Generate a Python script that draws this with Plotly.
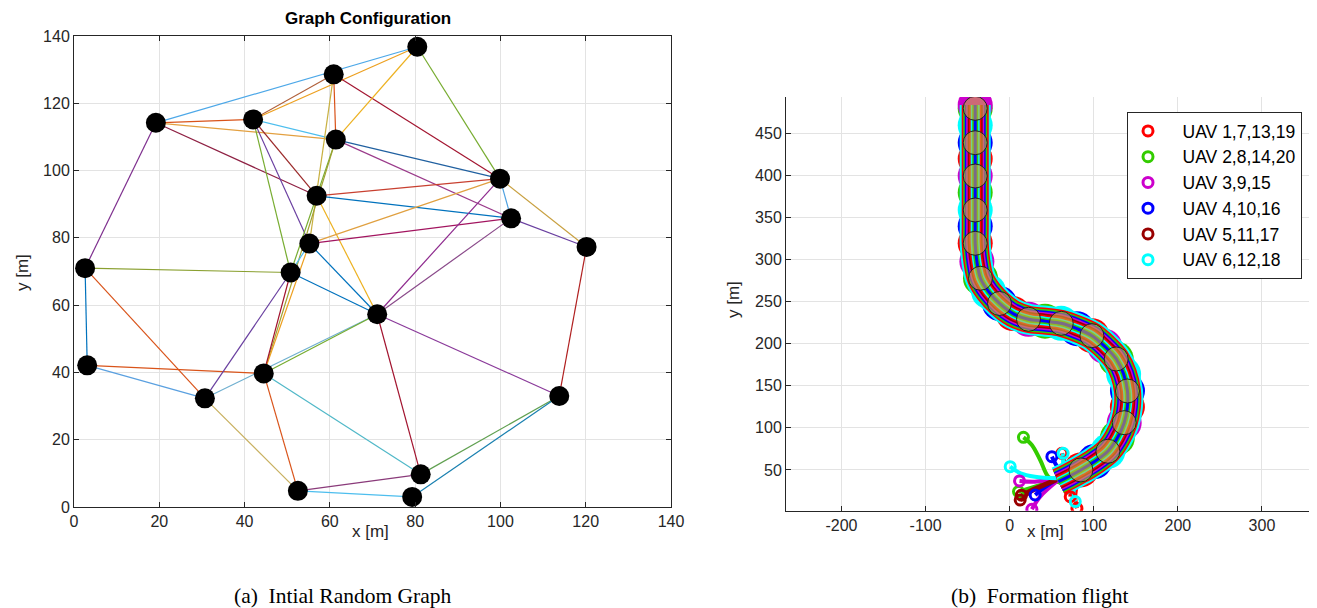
import plotly.graph_objects as go

# ---------------- (a) Initial random graph ----------------
node_x = [60.9, 80.5, 42.0, 19.2, 61.4, 56.9, 99.9, 102.5, 55.2, 120.2,
          2.6, 50.8, 71.1, 3.1, 44.5, 30.7, 113.8, 81.3, 52.5, 79.3]
node_y = [128.6, 136.8, 115.2, 114.2, 109.2, 92.5, 97.6, 85.8, 78.3, 77.3,
          71.0, 69.7, 57.3, 42.1, 39.7, 32.3, 33.0, 9.7, 4.8, 3.0]

edge_from = [3, 3, 3, 3, 3, 2, 2, 2, 2, 2, 2, 0, 0, 0, 1, 1, 4, 4, 4, 4,
             5, 5, 5, 8, 8, 8, 8, 8, 10, 10, 10, 13, 13, 15, 15, 14, 15, 14, 14, 14,
             11, 12, 12, 12, 12, 16, 16, 16, 18, 18, 7, 6, 6]
edge_to = [1, 2, 4, 5, 10, 0, 1, 4, 11, 8, 5, 4, 6, 8, 4, 6, 6, 7, 11, 14,
           6, 7, 12, 6, 7, 14, 12, 11, 11, 13, 15, 14, 15, 11, 12, 12, 18, 11, 18, 17,
           12, 6, 7, 16, 17, 9, 17, 19, 17, 19, 9, 9, 7]
edge_color = ["#4DA8E8", "#D95319", "#E3A040", "#8E2043", "#7E2F8E", "#B0603A", "#EDA020",
              "#4DBEEE", "#77AC30", "#6A3FA0", "#9B2A2A", "#D95319", "#A2142F", "#C8B040",
              "#EDB120", "#77AC30", "#2060A0", "#9A3A8A", "#77AC30", "#A0A030",
              "#C84030", "#0072BD", "#EDB120", "#E0A040", "#A2145F", "#EDA020", "#0072BD",
              "#4DBEEE", "#8AA030", "#0072BD", "#D95319", "#D95319", "#5AA0E0", "#6A40A0",
              "#70B0D0", "#77AC30", "#C8B060", "#A2142F", "#D95319", "#50B8C8",
              "#0072BD", "#8E2A8E", "#8A4A8A", "#8A3A9A", "#A2142F", "#B02020", "#60A050",
              "#1A80B0", "#8A3A7A", "#4DBEEE", "#6A40A0", "#C8A040", "#4DA0E0"]

# ---------------- (b) Formation flight ----------------
path_x = [58, 70, 84.7, 101, 116.8, 128, 136.2, 140, 140.1, 135.5, 126.7, 113, 97.8, 80,
          61.3, 42, 22.4, 4, -12.1, -25, -34.7, -39, -41, -41, -41, -41, -41, -41,
          -41, -41, -41, -41]
path_y = [36, 42, 50, 60, 72.2, 88, 106.2, 125, 143.9, 164, 182.0, 197, 209.7, 218,
          224.4, 227, 229.2, 236, 248, 262, 278, 298, 319.6, 340, 359.2, 380, 399.6, 420,
          439.2, 460, 480.1, 484]
circle_x = [84.7, 116.8, 136.2, 140.1, 126.7, 97.8, 61.3, 22.4, -12.1, -34.7,
            -41, -41, -41, -41, -41]
circle_y = [50.0, 72.2, 106.2, 143.9, 182.0, 209.7, 224.4, 229.2, 248.0, 278,
            319.6, 359.2, 399.6, 439.2, 480.1]

x2_ticks = [-200, -100, 0, 100, 200, 300]
x2_ticktext = ["-200", "-100", "0", "100", "200", "300"]
y2_ticks = [50, 100, 150, 200, 250, 300, 350, 400, 450]

group_names = ["UAV 1,7,13,19", "UAV 2,8,14,20", "UAV 3,9,15",
               "UAV 4,10,16", "UAV 5,11,17", "UAV 6,12,18"]
group_colors = ["#FF0000", "#33CC00", "#CC00CC", "#0000FF", "#990000", "#00FFFF"]

# start legs per group: polylines, first point = start position
start_red_x = [[62, 66, 72], [72, 74, 80], [80, 78, 84]]
start_red_y = [[69.8, 58, 46], [18.2, 30, 44], [4.4, 20, 46]]
start_green_x = [[16.4, 26.4, 36.3, 45.8, 56.5, 68.4], [10.5, 30, 56]]
start_green_y = [[88.8, 79.7, 61.8, 42.0, 35.7, 34.5], [24.2, 30, 38]]
start_mag_x = [[11.7, 30, 56], [26.4, 36, 58]]
start_mag_y = [[36.9, 36, 40], [3.2, 18, 38]]
start_blue_x = [[30.3, 40, 58], [50.2, 58, 68]]
start_blue_y = [[20.2, 28, 40], [65.8, 52, 44]]
start_dred_x = [[12.5, 25, 56], [14, 30, 58]]
start_dred_y = [[14.3, 24, 38], [20, 28, 40]]
start_cyan_x = [[0.6, 13, 30, 56], [63.6, 64, 70], [78, 76, 82]]
start_cyan_y = [[53.9, 46, 42, 40], [69.8, 56, 44], [12.3, 26, 44]]

starts_x = [start_red_x, start_green_x, start_mag_x, start_blue_x, start_dred_x, start_cyan_x]
starts_y = [start_red_y, start_green_y, start_mag_y, start_blue_y, start_dred_y, start_cyan_y]

# page offset compensation (the page body adds an 8 px margin)
W, H, OX, OY = 1317, 608, 8, 8


def fx(px):
    return (px - OX) / W


def fy(py):
    return 1 - (py - OY) / H


fig = go.Figure()

# graph edges
for a, b, c in zip(edge_from, edge_to, edge_color):
    fig.add_trace(go.Scatter(x=[node_x[a], node_x[b]], y=[node_y[a], node_y[b]],
                             mode="lines", line=dict(color=c, width=1.2),
                             showlegend=False, hoverinfo="skip", xaxis="x", yaxis="y"))
fig.add_trace(go.Scatter(x=node_x, y=node_y, mode="markers",
                         marker=dict(color="black", size=20), showlegend=False,
                         xaxis="x", yaxis="y"))

# start legs
for g in range(6):
    for sx, sy in zip(starts_x[g], starts_y[g]):
        fig.add_trace(go.Scatter(x=sx, y=sy, mode="lines",
                                 line=dict(color=group_colors[g], width=4, shape="spline"),
                                 showlegend=False, hoverinfo="skip", xaxis="x2", yaxis="y2"))

# scalloped outline of the formation band (skip the two entry points)
edge_cols = ["#FF0000", "#0000FF", "#00FFFF", "#33CC00", "#CC00CC"]
fig.add_trace(go.Scatter(x=path_x[2:], y=path_y[2:], mode="markers",
                         marker=dict(size=35, color=[edge_cols[i % 5] for i in range(len(path_x) - 2)],
                                     line=dict(width=0)),
                         showlegend=False, hoverinfo="skip", xaxis="x2", yaxis="y2"))
# stripes of the formation band
stripe_w = [31, 27, 24, 21, 18, 15, 12, 9, 6, 3]
stripe_c = ["#00FFFF", "#FF0000", "#33CC00", "#0000FF", "#CC00CC", "#990000",
            "#FF0000", "#00FFFF", "#33CC00", "#0000FF"]
for w, c in zip(stripe_w, stripe_c):
    fig.add_trace(go.Scatter(x=path_x, y=path_y, mode="lines",
                             line=dict(color=c, width=w, shape="spline"),
                             showlegend=False, hoverinfo="skip", xaxis="x2", yaxis="y2"))
# formation circles
fig.add_trace(go.Scatter(x=circle_x, y=circle_y, mode="markers",
                         marker=dict(size=24, color="rgba(205,175,60,0.6)",
                                     line=dict(color="#222222", width=1)),
                         showlegend=False, hoverinfo="skip", xaxis="x2", yaxis="y2"))
# start markers + legend entries
pad = "\u00a0\u00a0\u00a0"
for g in range(6):
    fig.add_trace(go.Scatter(x=[s[0] for s in starts_x[g]], y=[s[0] for s in starts_y[g]],
                             mode="markers", name=pad + group_names[g],
                             marker=dict(symbol="circle-open", size=10,
                                         color=group_colors[g],
                                         line=dict(width=3, color=group_colors[g])),
                             showlegend=True, xaxis="x2", yaxis="y2"))

axis_common = dict(showgrid=True, gridcolor="#E3E3E3", gridwidth=1, zeroline=False,
                   showline=True, linecolor="#262626", linewidth=1, ticks="inside",
                   ticklen=5, tickcolor="#262626", automargin=False,
                   tickfont=dict(family="Liberation Sans, Arial", size=16, color="#262626"))

fig.update_layout(
    width=W, height=H, autosize=False,
    margin=dict(l=0, r=0, t=0, b=0, pad=0, autoexpand=False),
    paper_bgcolor="white", plot_bgcolor="white",
    xaxis=dict(domain=[fx(74), fx(671)], range=[0, 140], dtick=20, mirror="ticks",
               anchor="y", **axis_common),
    yaxis=dict(domain=[fy(507), fy(36)], range=[0, 140], dtick=20, mirror="ticks",
               anchor="x", **axis_common),
    xaxis2=dict(domain=[fx(786), fx(1325)], range=[-266, 375],
                tickvals=x2_ticks, ticktext=x2_ticktext,
                anchor="y2", **axis_common),
    yaxis2=dict(domain=[fy(510.7), fy(97)], range=[1.5, 493.6],
                tickvals=y2_ticks,
                anchor="x2", **axis_common),
    showlegend=True,
    legend=dict(x=fx(1127), y=fy(112), xanchor="left", yanchor="top",
                bgcolor="white", bordercolor="#262626", borderwidth=1,
                font=dict(family="Liberation Sans, Arial", size=17.5, color="#000000"),
                tracegroupgap=0, itemwidth=30),
)

ann_font = dict(family="Liberation Sans, Arial", size=17, color="#262626")
serif = dict(family="Liberation Serif, Times New Roman", size=21.5, color="black")


def ann(text, px, py, font, angle=0):
    fig.add_annotation(text=text, x=fx(px), y=fy(py), xref="paper", yref="paper",
                       xanchor="center", yanchor="middle", showarrow=False,
                       textangle=angle, font=font)


ann("<b>Graph Configuration</b>", 368, 19, dict(family="Liberation Sans, Arial", size=17, color="black"))
ann("x [m]", 370, 531, ann_font)
ann("y [m]", 22, 272, ann_font, -90)
ann("x [m]", 1045, 531, ann_font)
ann("y [m]", 733, 300, ann_font, -90)
ann("(a)  Intial Random Graph", 343, 596, serif)
ann("(b)  Formation flight", 1039, 596, serif)

fig.write_html("out.html")
